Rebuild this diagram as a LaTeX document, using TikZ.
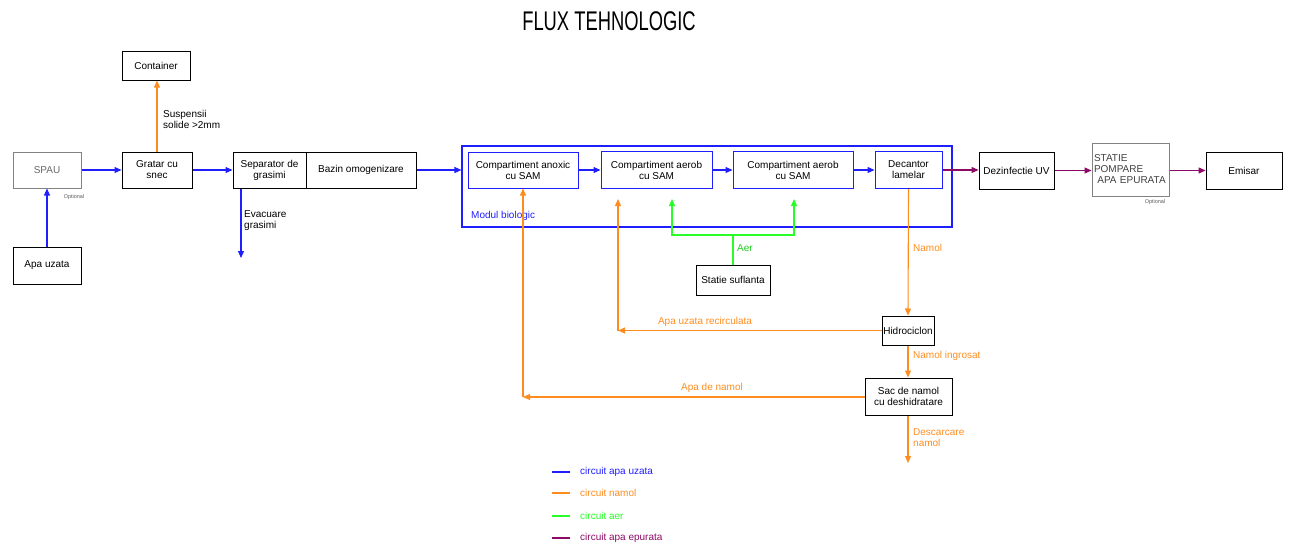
\documentclass[tikz,border=0pt]{standalone}
\usepackage{fontspec}
\setmainfont{Liberation Sans}
\newfontfamily\titlefont{Liberation Sans}[FakeStretch=0.68]
\usetikzlibrary{arrows.meta,positioning,calc}
\definecolor{cblue}{RGB}{30,30,255}
\definecolor{corange}{RGB}{255,140,30}
\definecolor{cgreen}{RGB}{40,255,40}
\definecolor{cpurple}{RGB}{140,10,100}
\definecolor{cgray}{RGB}{130,130,130}
\tikzset{
  box/.style={draw=black, line width=1pt, inner sep=1pt, align=center, font=\fontsize{10}{11}\selectfont},
  graybox/.style={box, draw=cgray, text=cgray!80!black},
  bluebox/.style={box, draw=cblue},
  flowb/.style={cblue, line width=1.1pt, -{Triangle[length=7pt,width=6pt]}},
  flowo/.style={corange, line width=1.1pt, -{Triangle[length=7pt,width=6pt]}},
  flowg/.style={cgreen, line width=1.1pt, -{Triangle[length=7pt,width=6pt]}},
  flowp/.style={cpurple, line width=1.1pt, -{Triangle[length=7pt,width=6pt]}},
  lbl/.style={font=\fontsize{10}{11}\selectfont, inner sep=0pt, align=left},
  small/.style={font=\fontsize{5.5}{6}\selectfont, inner sep=0pt, text=cgray!70!black},
}
\begin{document}
\begin{tikzpicture}[x=1pt,y=-1pt]
\useasboundingbox (0,0) rectangle (1289,543);
% title
\node[font=\titlefont\fontsize{27}{28}\selectfont, inner sep=0pt] (title) at (609,21) {FLUX TEHNOLOGIC};

% biological module
\node[draw=cblue, line width=1.1pt, minimum width=490pt, minimum height=81pt, inner sep=0pt] (modul) at (707,186.5) {};
\node[lbl, text=cblue, anchor=west] (modlbl) at (471,216) {Modul biologic};

% boxes
\node[box, minimum width=68pt, minimum height=28pt] (cont) at (156,66) {Container};
\node[graybox, minimum width=68pt, minimum height=36pt] (spau) at (47,170) {SPAU};
\node[small, anchor=center] (opt1) at (74,197) {Optional};
\node[box, minimum width=70pt, minimum height=36pt] (gratar) at (157,170) {Gratar cu\\snec};
\node[box, minimum width=73pt, minimum height=36pt] (sep) at (269.5,170) {Separator de\\grasimi};
\node[box, minimum width=110pt, minimum height=36pt] (bazin) at (361,170) {Bazin omogenizare};
\node[box, minimum width=68pt, minimum height=37pt] (apa) at (47,265.5) {Apa uzata};
\node[bluebox, minimum width=110pt, minimum height=36pt] (anox) at (523,170) {Compartiment anoxic\\cu SAM};
\node[bluebox, minimum width=111pt, minimum height=37pt] (aer1) at (656.5,170) {Compartiment aerob\\cu SAM};
\node[bluebox, minimum width=120pt, minimum height=37pt] (aer2) at (793,170) {Compartiment aerob\\cu SAM};
\node[bluebox, minimum width=67pt, minimum height=37pt] (dec) at (908.5,170) {Decantor\\lamelar};
\node[box, minimum width=75pt, minimum height=37pt] (uv) at (1016.5,170.5) {Dezinfectie UV};
\node[graybox, text=black!75, minimum width=77pt, minimum height=53pt, text width=73pt, align=left, inner sep=2pt] (statie) at (1130.5,169.5) {STATIE\\POMPARE\\\ APA EPURATA};
\node[small] (opt2) at (1155,202) {Optional};
\node[box, minimum width=76pt, minimum height=37pt] (emisar) at (1244,170.5) {Emisar};
\node[box, minimum width=74pt, minimum height=30pt] (sufl) at (733,280) {Statie suflanta};
\node[box, minimum width=52pt, minimum height=29pt] (hidro) at (908,330.5) {Hidrociclon};
\node[box, minimum width=87pt, minimum height=37pt] (sac) at (908.5,396.5) {Sac de namol\\cu deshidratare};

% coordinates
\coordinate (sepdown) at (241,258);
\coordinate (rc) at (618,330.5);
\coordinate (rt) at (618,199);
\coordinate (ac) at (523,397);
\coordinate (ja) at (733,235);
\coordinate (al) at (672,199);
\coordinate (ar) at (794,199);
\coordinate (sacdown) at (908,463);

% blue flow
\draw[flowb] (apa.north) -- (spau.south);
\draw[flowb] (spau.east) -- (gratar.west);
\draw[flowb] (gratar.east) -- (sep.west);
\draw[flowb] (sep.south west -| sepdown) -- (sepdown);
\draw[flowb] (bazin.east) -- (bazin.east -| modul.west);
\draw[flowb] (anox.east) -- (aer1.west);
\draw[flowb] (aer1.east) -- (aer2.west);
\draw[flowb] (aer2.east) -- (dec.west);
% purple flow
\draw[flowp] (dec.east) -- (dec.east -| uv.west);
\draw[flowp] (uv.east) -- (uv.east -| statie.west);
\draw[flowp] (statie.east |- emisar.west) -- (emisar.west);
% orange flow
\draw[flowo] (gratar.north) -- (cont.south -| gratar.north);
\draw[flowo] (dec.south) -- (hidro.north);
\draw[flowo] (hidro.west) -- (rc);
\draw[flowo] (rc) -- (rt);
\draw[flowo] (hidro.south) -- (sac.north -| hidro.south);
\draw[flowo] (sac.west |- ac) -- (ac);
\draw[flowo] (ac) -- (anox.south);
\draw[flowo] (sac.south -| sacdown) -- (sacdown);
% green flow
\draw[cgreen, line width=1.1pt] (sufl.north) -- (ja);
\draw[flowg] (ja) -| (al);
\draw[flowg] (ja) -| (ar);

% labels
\node[lbl, anchor=west] (l1) at (163,119) {Suspensii\\solide >2mm};
\node[lbl, anchor=west] (l2) at (244,220.5) {Evacuare\\grasimi};
\node[lbl, text=corange, anchor=west] (l3) at (913,248) {Namol};
\node[lbl, text=cgreen!80!black, anchor=west] (l4) at (737,248) {Aer};
\node[lbl, text=corange] (l5) at (705,322) {Apa uzata recirculata};
\node[lbl, text=corange] (l6) at (712,388) {Apa de namol};
\node[lbl, text=corange, anchor=west] (l7) at (913,356) {Namol ingrosat};
\node[lbl, text=corange, anchor=west] (l8) at (913,438) {Descarcare\\namol};

% legend
\foreach \yy/\cc/\tt [count=\i] in {472/cblue/circuit apa uzata, 493/corange/circuit namol, 516/cgreen/circuit aer, 538/cpurple/circuit apa epurata}{
  \coordinate (lga\i) at (552,\yy);
  \coordinate (lgb\i) at (570,\yy);
  \draw[\cc, line width=1.1pt] (lga\i) -- (lgb\i);
  \node[lbl, text=\cc, anchor=west] (lgt\i) at (580,\yy) {\tt};
}
\end{tikzpicture}
\end{document}
